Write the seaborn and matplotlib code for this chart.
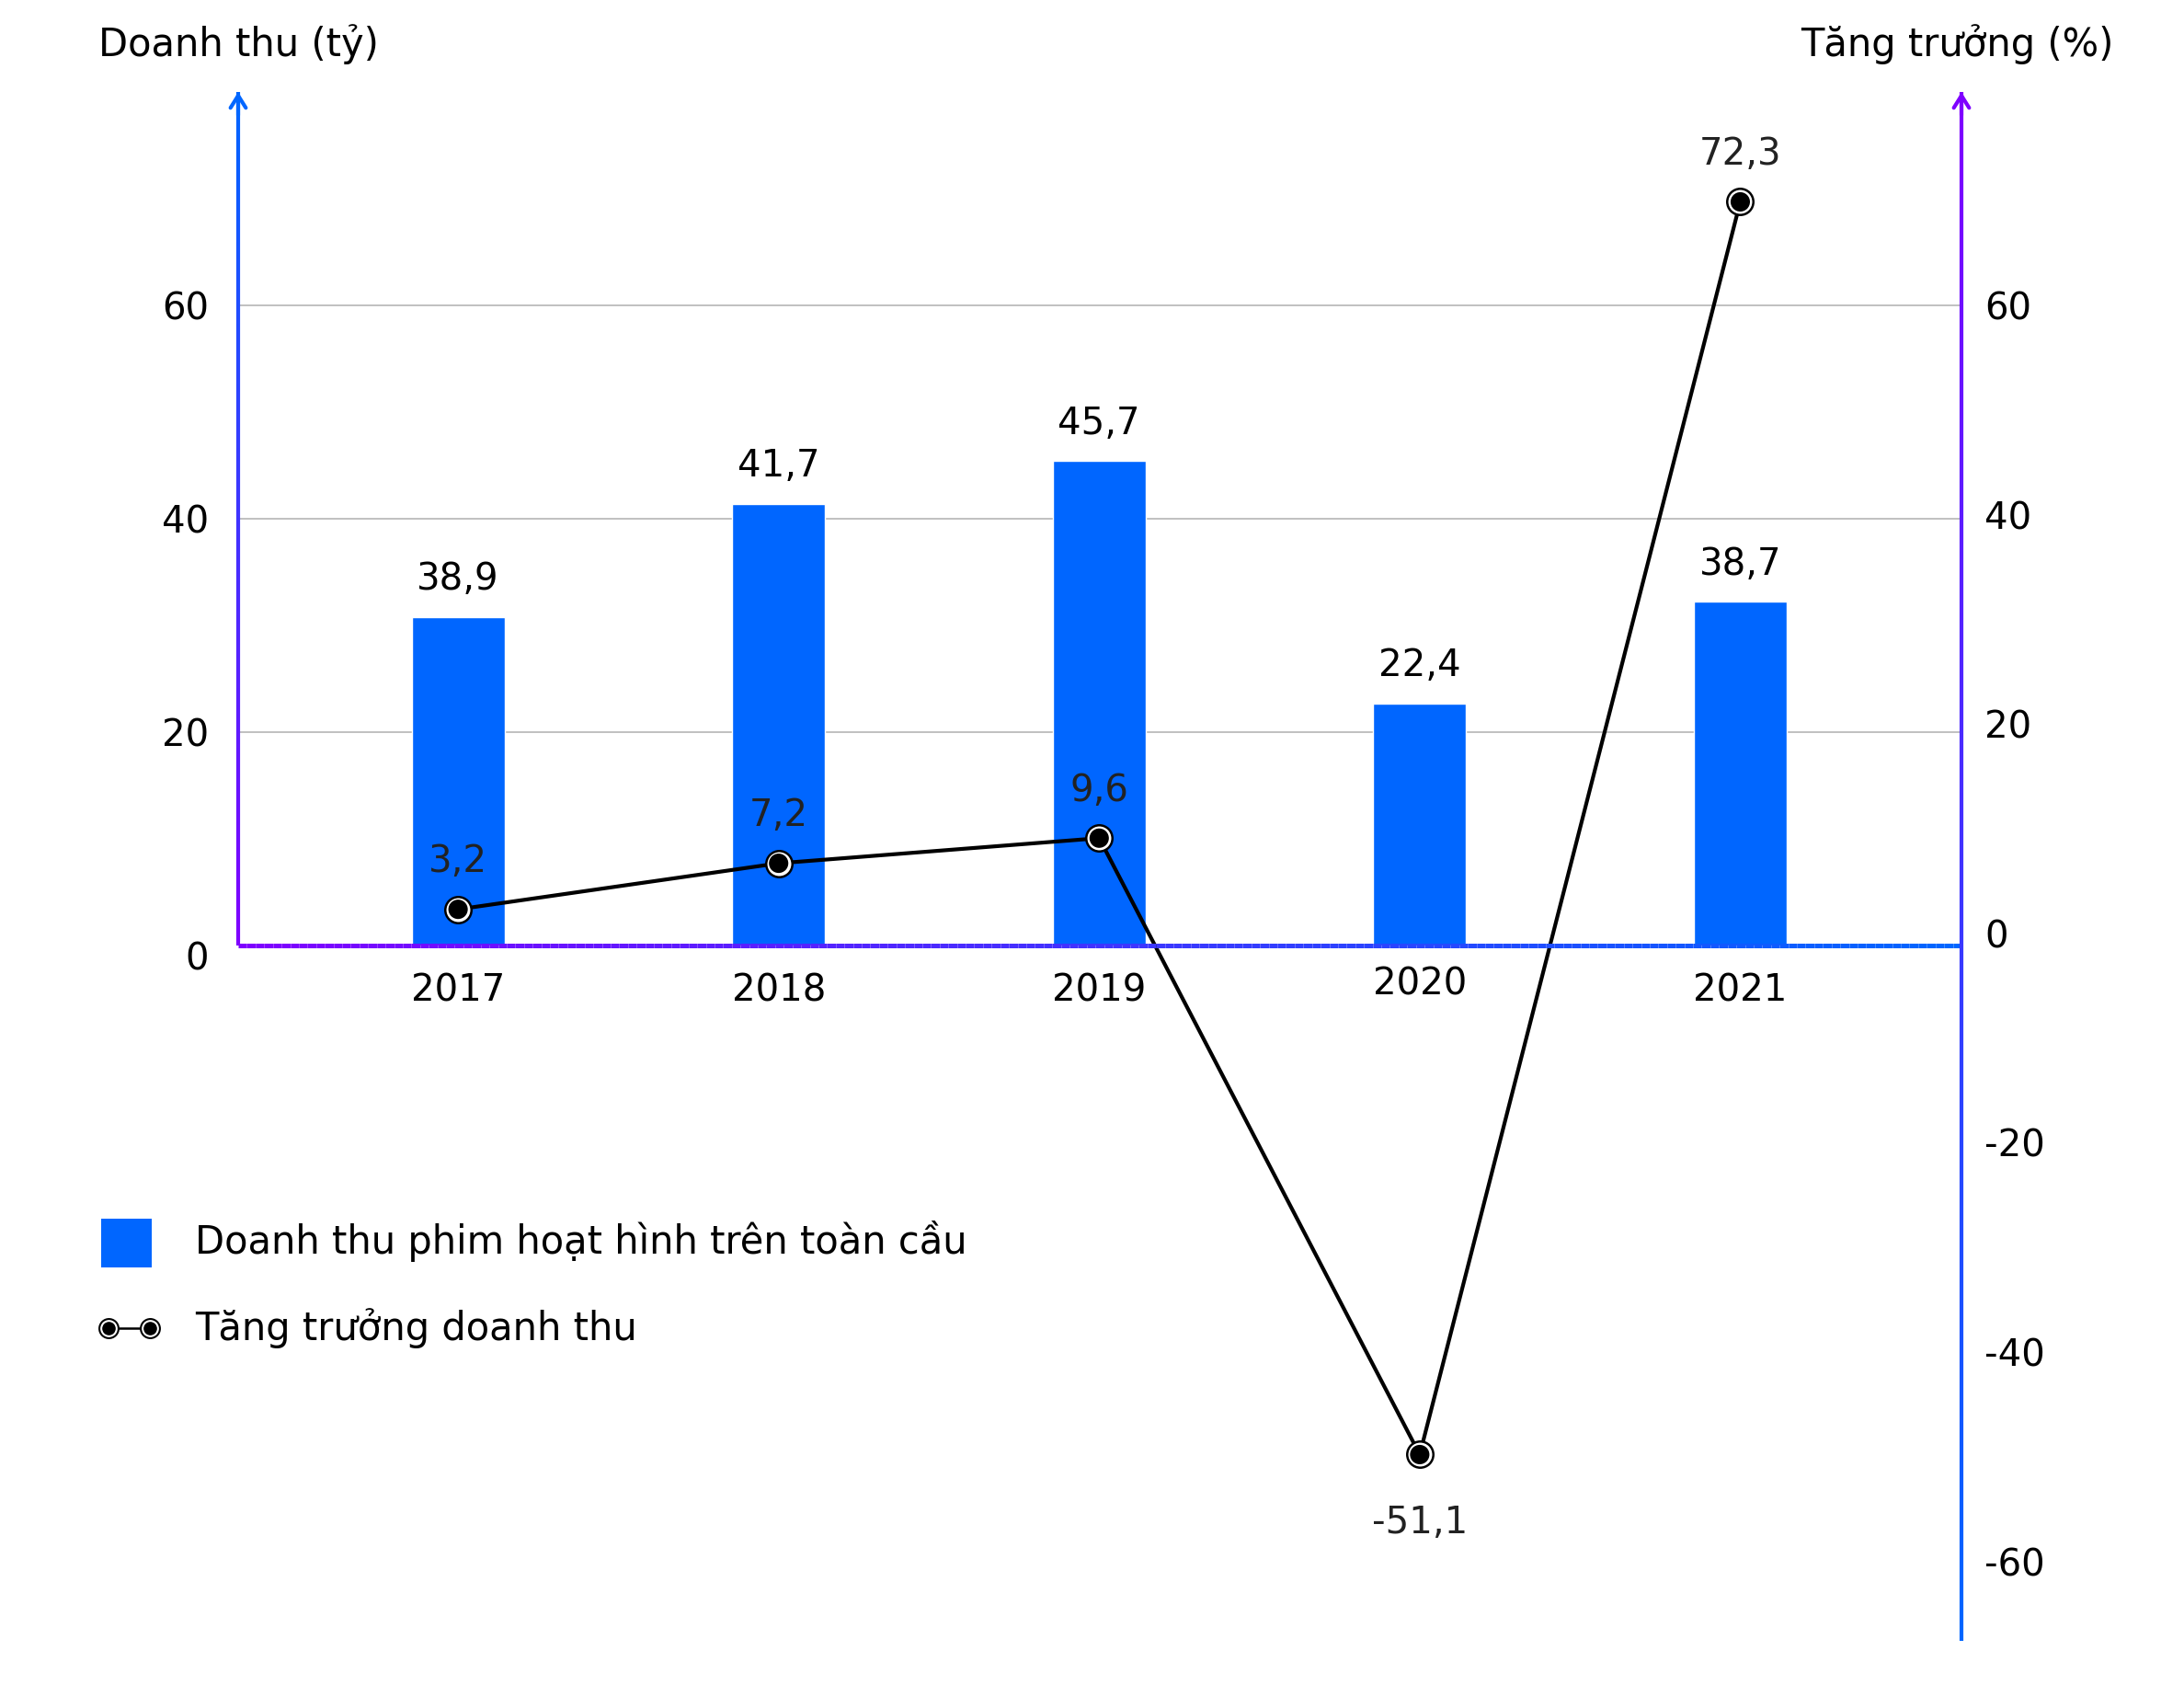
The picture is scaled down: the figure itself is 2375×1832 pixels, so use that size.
import numpy as np
import pandas as pd
import seaborn as sns
import matplotlib.pyplot as plt
from matplotlib.collections import LineCollection
from matplotlib.colors import LinearSegmentedColormap
from matplotlib.patches import Rectangle
from matplotlib.lines import Line2D
from matplotlib.transforms import ScaledTranslation

# bar heights as drawn vs. the values printed above them
years = ["2017", "2018", "2019", "2020", "2021"]
revenue_bar = [30.8, 41.4, 45.4, 22.7, 32.2]
revenue_labels = ["38,9", "41,7", "45,7", "22,4", "38,7"]

# growth line as drawn vs. printed values
growth_line = [2.3, 6.7, 9.1, -49.8, 69.9]
growth_labels = ["3,2", "7,2", "9,6", "-51,1", "72,3"]

left_ticks = [0, 20, 40, 60]
right_ticks = [60, 40, 20, 0, -20, -40, -60]

BLUE = "#0066ff"
PURPLE = "#7f00ff"
FS = 29
FS_TXT = 30

sns.set_theme(style="white")
plt.rcParams["font.family"] = ["DejaVu Sans"]

W, H = 2375, 1832
fig = plt.figure(figsize=(W / 100, H / 100), dpi=100)
ax = fig.add_axes([259 / W, 1 - 1784 / H, 1874 / W, 1684 / H])
ax2 = ax.twinx()
ax2.set_zorder(ax.get_zorder() + 1)
ax2.patch.set_visible(False)

df = pd.DataFrame({"year": years, "revenue": revenue_bar})
sns.barplot(data=df, x="year", y="revenue", color=BLUE, saturation=1,
            width=0.29, ax=ax, zorder=2)

xs = np.arange(len(years))
sns.lineplot(x=xs, y=growth_line, ax=ax2, color="black", lw=3.0, zorder=3)
sns.scatterplot(x=xs, y=growth_line, ax=ax2, s=420, color="white",
                edgecolor="black", linewidth=1.8, zorder=4)
sns.scatterplot(x=xs, y=growth_line, ax=ax2, s=230, color="black",
                edgecolor="none", linewidth=0, zorder=5)

ax.set_xlim(-0.686, 4.69)
ax.set_ylim(-65.2, 80.0)
ax2.set_ylim(-67.6, 80.4)

for a in (ax, ax2):
    for s in a.spines.values():
        s.set_visible(False)
    a.set_xlabel("")
    a.set_ylabel("")
ax.set_xticks([])

# gridlines
for t in [20, 40, 60]:
    ax.plot([-0.686, 4.69], [t, t], color="#b5b5b5", lw=1.2, zorder=1)

ax.set_yticks(left_ticks)
ax.set_yticklabels([str(t) for t in left_ticks], fontsize=FS, color="black")
ax.tick_params(axis="y", length=0, pad=23)
zero_lab = ax.get_yticklabels()[0]
zero_lab.set_transform(zero_lab.get_transform() +
                       ScaledTranslation(0, -0.11, fig.dpi_scale_trans))
ax2.set_yticks(right_ticks)
ax2.set_yticklabels([str(t) for t in right_ticks], fontsize=FS, color="black")
ax2.tick_params(axis="y", length=0, pad=18)

# year labels under the zero line
year_off = [-36, -36, -36, -31, -36]
for i, (y, off) in enumerate(zip(years, year_off)):
    ax.annotate(y, (i, 0), xytext=(0, off), textcoords="offset points",
                ha="center", va="center", fontsize=FS, color="black")

# value labels
for i, (v, lab) in enumerate(zip(revenue_bar, revenue_labels)):
    ax.annotate(lab, (i, v), xytext=(0, 29), textcoords="offset points",
                ha="center", va="center", fontsize=FS, color="black", zorder=6)
for i, (v, lab) in enumerate(zip(growth_line, growth_labels)):
    off = 37 if v >= 0 else -54
    ax2.annotate(lab, (i, v), xytext=(0, off), textcoords="offset points",
                 ha="center", va="center", fontsize=FS, color="#222222", zorder=6)


def grad_line(a, p0, p1, c0, c1, lw, transform):
    n = 200
    px = np.linspace(p0[0], p1[0], n)
    py = np.linspace(p0[1], p1[1], n)
    pts = np.array([px, py]).T.reshape(-1, 1, 2)
    segs = np.concatenate([pts[:-1], pts[1:]], axis=1)
    cmap = LinearSegmentedColormap.from_list("g", [c0, c1])
    lc = LineCollection(segs, cmap=cmap, linewidth=lw, transform=transform,
                        clip_on=False, zorder=7, capstyle="butt")
    lc.set_array(np.linspace(0, 1, n - 1))
    a.add_collection(lc)


# axis lines with gradients
grad_line(ax2, (0, 0), (0, 80.0), PURPLE, BLUE, 3, ax.get_yaxis_transform())
grad_line(ax2, (0, 0), (1, 0), PURPLE, BLUE, 3.6, ax.get_yaxis_transform())
grad_line(ax2, (1, 0), (1, 1), BLUE, PURPLE, 3, ax.transAxes)

for xa, col in [(0, BLUE), (1, PURPLE)]:
    ax2.annotate("", xy=(xa, 1), xytext=(xa, 0.985), xycoords="axes fraction",
                 arrowprops=dict(arrowstyle="->,head_length=0.8,head_width=0.5",
                                 color=col, lw=3, shrinkA=0, shrinkB=0),
                 annotation_clip=False, zorder=8)

# axis titles
fig.text(107 / W, 1 - 48 / H, "Doanh thu (tỷ)", ha="left", va="center",
         fontsize=FS_TXT, color="black")
fig.text(2299 / W, 1 - 48 / H, "Tăng trưởng (%)", ha="right", va="center",
         fontsize=FS_TXT, color="black")

# legend
fig.add_artist(Rectangle((110 / W, 1 - 1378 / H), 55 / W, 53 / H,
                         transform=fig.transFigure, color=BLUE, lw=0))
fig.text(212 / W, 1 - 1350 / H, "Doanh thu phim hoạt hình trên toàn cầu",
         ha="left", va="center", fontsize=FS_TXT, color="black")
ly = 1 - 1444 / H
fig.add_artist(Line2D([118 / W, 163 / W], [ly, ly], transform=fig.transFigure,
                      color="black", lw=1.8, marker="o", markersize=15,
                      markerfacecolor="white", markeredgecolor="black",
                      markeredgewidth=1.5))
fig.add_artist(Line2D([118 / W, 163 / W], [ly, ly], transform=fig.transFigure,
                      lw=0, marker="o", markersize=9.5, color="black"))
fig.text(212 / W, 1 - 1444 / H, "Tăng trưởng doanh thu",
         ha="left", va="center", fontsize=FS_TXT, color="black")

fig.savefig("out.png", dpi=100, facecolor="white")
